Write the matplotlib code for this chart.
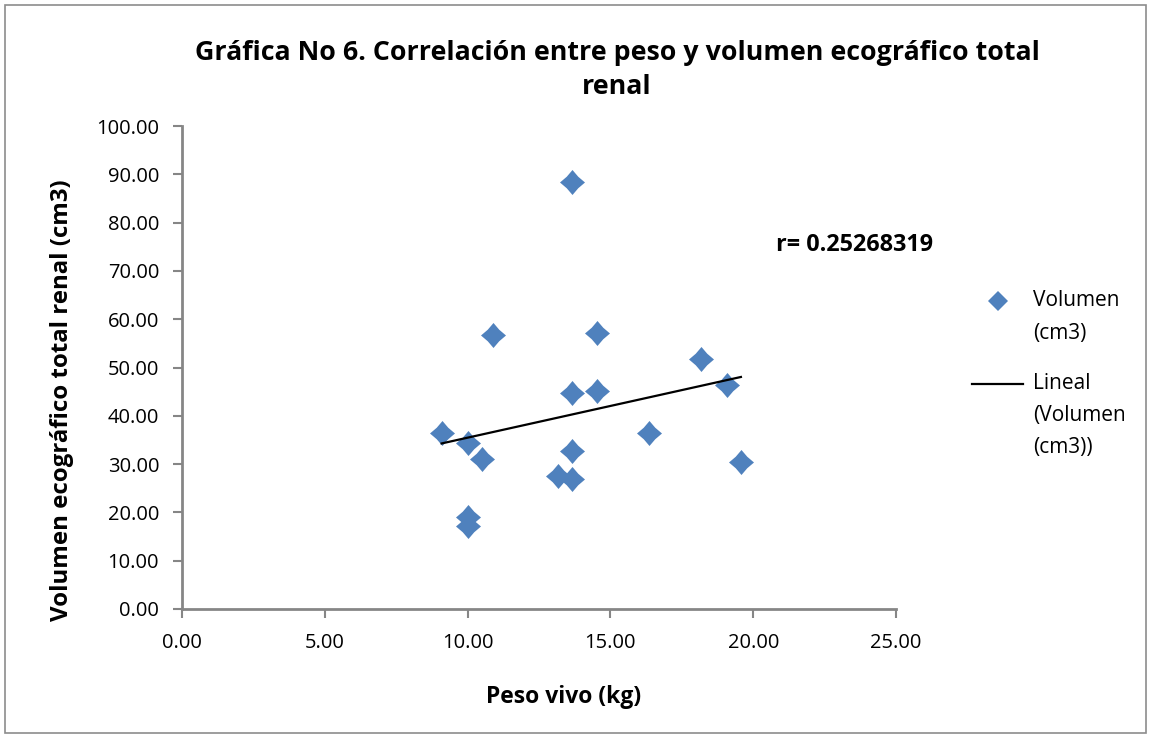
import numpy as np
import matplotlib.pyplot as plt
from matplotlib.patches import Rectangle
from matplotlib.lines import Line2D

plt.rcParams['font.family'] = ['Open Sans', 'DejaVu Sans']

# Peso vivo (kg) y volumen ecografico total renal (cm3)
peso = [9.09, 10.0, 10.49, 10.0, 10.0, 10.89, 13.64, 13.64, 13.64, 13.17,
        13.64, 14.54, 14.54, 16.35, 18.17, 19.09, 19.57]
volumen = [36.5, 34.3, 31.0, 19.0, 17.2, 56.7, 88.5, 44.7, 32.7, 27.6,
           26.9, 57.1, 45.2, 36.4, 51.7, 46.4, 30.5]
r_txt = 'r= 0.25268319'
ley_puntos = ['Volumen', '(cm3)']
ley_linea = ['Lineal', '(Volumen', '(cm3))']

peso = np.array(peso)
volumen = np.array(volumen)
m, b = np.polyfit(peso, volumen, 1)
xl = np.array([peso.min(), peso.max()])

# rombo con lados algo concavos
k = 0.46
rombo = [(0, 1), (k, k), (1, 0), (k, -k), (0, -1), (-k, -k), (-1, 0), (-k, k), (0, 1)]
azul = '#4f81bd'

W, H = 1151, 737
fig = plt.figure(figsize=(W/100, H/100), dpi=100)
fig.patches.append(Rectangle((5/W, 4/H), 1 - 10/W, 1 - 9/H, transform=fig.transFigure,
                             fill=False, edgecolor='#8c8c8c', linewidth=1.2))
ax = fig.add_axes([182/W, 1 - 609/H, (896-182)/W, (609-126)/H])

ax.plot(peso, volumen, marker=rombo, linestyle='none', color=azul, markersize=18,
        markeredgewidth=0, zorder=3)
ax.plot(xl, m*xl + b, color='black', linewidth=1.6, zorder=4)

ax.set_xlim(0, 25)
ax.set_ylim(0, 100)
ax.set_xticks(np.arange(0, 26, 5))
ax.set_yticks(np.arange(0, 101, 10))
ax.set_xticklabels(['%.2f' % v for v in np.arange(0, 26, 5)])
ax.set_yticklabels(['%.2f' % v for v in np.arange(0, 101, 10)])
ax.tick_params(labelsize=14.5, color='#868686', width=1.5, length=6.5)
ax.tick_params(axis='x', pad=11)
ax.tick_params(axis='y', pad=10)
for s in ['top', 'right']:
    ax.spines[s].set_visible(False)
for s in ['left', 'bottom']:
    ax.spines[s].set_color('#868686')
    ax.spines[s].set_linewidth(2)

fig.text(564/W, 1 - 697/H, 'Peso vivo (kg)', ha='center', va='center', fontsize=16.5, fontweight='bold')
fig.text(62/W, 1 - 400/H, 'Volumen ecográfico total renal (cm3)', ha='center', va='center',
         rotation=90, fontsize=17.3, fontweight='bold')
fig.text(617/W, 1 - 70/H, 'Gráfica No 6. Correlación entre peso y volumen ecográfico total\nrenal',
         ha='center', va='center', fontsize=19.3, fontweight='bold', linespacing=1.45)
fig.text(776/W, 1 - 245/H, r_txt, ha='left', va='center', fontsize=16.8, fontweight='bold')

# leyenda a mano, con el simbolo alineado a la primera linea como en Excel
fig.add_artist(Line2D([998/W], [1 - 301/H], marker='D', color=azul, markersize=10,
                      markeredgewidth=0, transform=fig.transFigure))
fig.add_artist(Line2D([972/W, 1023/W], [1 - 384/H, 1 - 384/H], color='black', linewidth=1.6,
                      transform=fig.transFigure))
for txt, y in zip(ley_puntos, [301, 334]):
    fig.text(1033/W, 1 - y/H, txt, ha='left', va='center', fontsize=15)
for txt, y in zip(ley_linea, [384, 416, 448]):
    fig.text(1033/W, 1 - y/H, txt, ha='left', va='center', fontsize=15)

fig.savefig('out.png', dpi=100)
